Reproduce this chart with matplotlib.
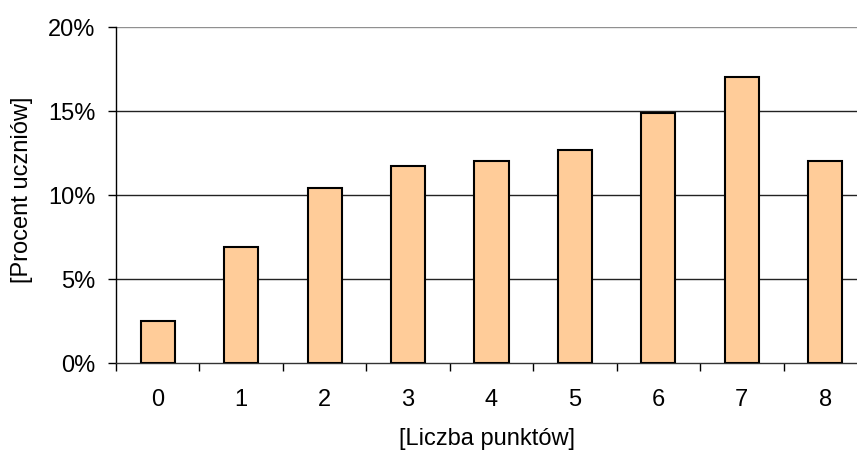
"""
Rozkład liczby punktów - wykres słupkowy
"""
import matplotlib
matplotlib.use('Agg')
import matplotlib.pyplot as plt
import numpy as np

# dane
punkty = ['0', '1', '2', '3', '4', '5', '6', '7', '8']
procent = [2.5, 6.9, 10.4, 11.7, 12.0, 12.7, 14.9, 17.0, 12.0]
y_ticks = [0, 5, 10, 15, 20]

plt.rcParams['font.family'] = ['Liberation Sans', 'DejaVu Sans']

fig = plt.figure(figsize=(8.57, 4.52), dpi=100)
# oś wychodzi poza prawą krawędź obrazka, jak w oryginale
ax = fig.add_axes([116 / 857, 1 - 364 / 452, 751 / 857, 336 / 452])

x = np.arange(len(punkty))
ax.bar(x, procent, width=0.41, color='#FFCC99', edgecolor='black',
       linewidth=1.5, zorder=3)

ax.set_xlim(-0.5, len(punkty) - 0.5)
ax.set_ylim(0, 20)

# siatka pozioma
for v in y_ticks[1:]:
    ax.axhline(v, color='#222222' if v < 20 else '#909090', linewidth=1.0, zorder=1)

ax.set_yticks(y_ticks)
ax.set_yticklabels([f'{v}%' for v in y_ticks])
ax.set_xticks(x)
ax.set_xticklabels(punkty)
ax.set_xticks(np.arange(-0.5, len(punkty)), minor=True)

ax.tick_params(axis='y', length=6, width=1, pad=9, labelsize=17, colors='black')
ax.tick_params(axis='x', which='major', length=0, pad=18, labelsize=17)
ax.tick_params(axis='x', which='minor', length=6, width=1)

for s in ['top', 'right']:
    ax.spines[s].set_visible(False)
ax.spines['left'].set_linewidth(1.0)
ax.spines['bottom'].set_linewidth(1.0)
ax.spines['bottom'].set_color('#333333')

fig.text(487 / 857, 1 - 439 / 452, '[Liczba punktów]', ha='center', va='center',
         fontsize=17)
fig.text(22 / 857, 1 - 190 / 452, '[Procent uczniów]', ha='center', va='center',
         rotation=90, fontsize=17)

fig.savefig('out.png', dpi=100)
